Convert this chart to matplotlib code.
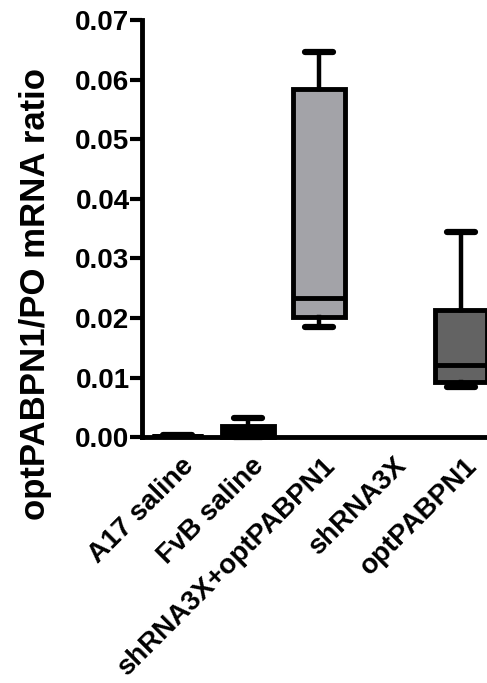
import matplotlib
matplotlib.use("Agg")
from matplotlib import pyplot as plt
import matplotlib.transforms as mtransforms

#####################################################################
# optPABPN1/PO mRNA ratio - box plot
#####################################################################

groups = ["A17 saline", "FvB saline", "shRNA3X+optPABPN1", "shRNA3X", "optPABPN1"]
# (whisker low, Q1, median, Q3, whisker high) ; shRNA3X has no data
whislo = [0.0002, 0.0000, 0.0185, None, 0.0084]
q1     = [0.0002, 0.0000, 0.0201, None, 0.0093]
med    = [0.0002, 0.0004, 0.0233, None, 0.0121]
q3     = [0.0002, 0.0019, 0.0585, None, 0.0213]
whishi = [0.0003, 0.0032, 0.0646, None, 0.0345]
fills  = ["black", "black", "#a3a3a8", None, "#636363"]
yticks = [0.00, 0.01, 0.02, 0.03, 0.04, 0.05, 0.06, 0.07]

plt.rcParams['font.family'] = ['Liberation Sans', 'DejaVu Sans']
fig = plt.figure(figsize=(4.87, 6.83), dpi=100)
ax = fig.add_axes([0.2916, 0.360, 0.7084, 0.6107])

stats, pos, cols = [], [], []
for i in range(len(groups)):
    if med[i] is None:
        continue
    stats.append(dict(whislo=whislo[i], q1=q1[i], med=med[i], q3=q3[i],
                      whishi=whishi[i], fliers=[]))
    pos.append(i)
    cols.append(fills[i])

res = ax.bxp(stats, positions=pos, widths=0.73, patch_artist=True,
             showfliers=False,
             boxprops=dict(linewidth=3.5, edgecolor="black"),
             medianprops=dict(linewidth=3.5, color="black"),
             whiskerprops=dict(linewidth=3.2, color="black"),
             capprops=dict(linewidth=4.5, color="black", solid_capstyle="round"),
             capwidths=0.4)
for patch, c in zip(res["boxes"], cols):
    patch.set_facecolor(c)
for l in res["boxes"] + res["whiskers"] + res["caps"] + res["medians"]:
    l.set_clip_on(False)

ax.set_xlim(-0.5, 4.37)
ax.set_ylim(0, 0.07)
ax.set_yticks(yticks)
ax.set_yticklabels(["%.2f" % v for v in yticks], fontsize=20, fontweight="bold")
ax.set_xticks(range(len(groups)))
ax.set_xticklabels(groups, fontsize=20, fontweight="bold", rotation=45,
                   ha="right", va="top", rotation_mode="anchor")

ax.tick_params(axis="y", length=9, width=3, pad=0, direction="out")
ax.tick_params(axis="x", length=0, pad=5)
for s in ["top", "right"]:
    ax.spines[s].set_visible(False)
for s in ["left", "bottom"]:
    ax.spines[s].set_linewidth(3.5)

# shift rotated labels (after tick_params, which resets label transforms)
offset = mtransforms.ScaledTranslation(3 / 100, -9 / 100, fig.dpi_scale_trans)
for lab in ax.get_xticklabels():
    lab.set_transform(lab.get_transform() + offset)

fig.text(0.072, 0.57, "optPABPN1/PO mRNA ratio", rotation=90, ha="center",
         va="center", fontsize=25, fontweight="bold")

plt.savefig("out.png", dpi=100)
